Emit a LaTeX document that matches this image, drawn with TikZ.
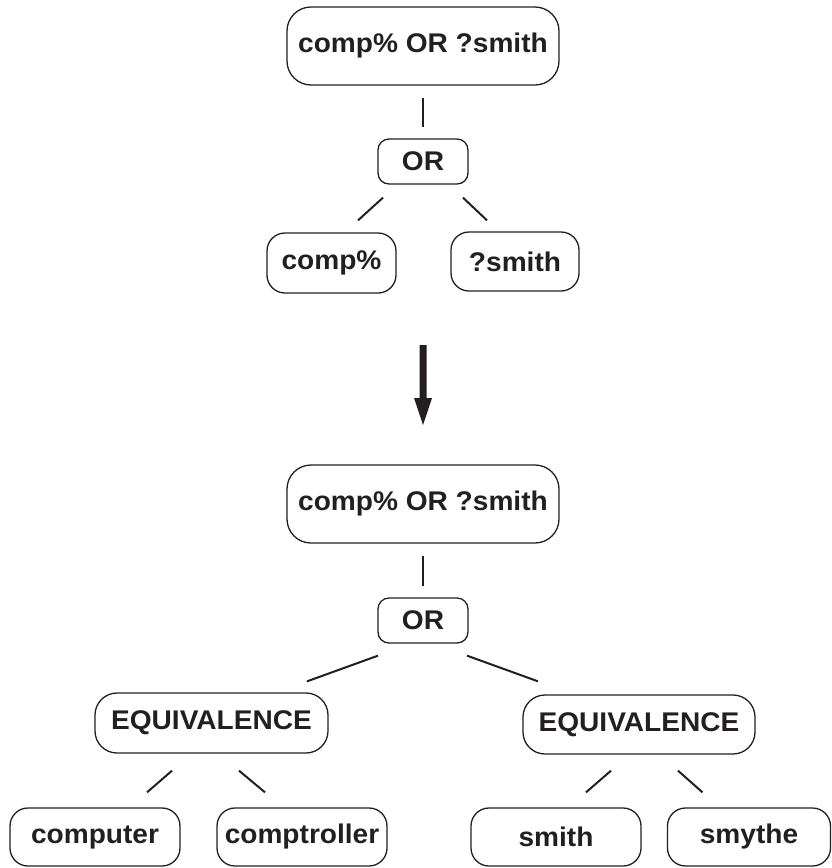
\documentclass[tikz,border=0pt]{standalone}
\usepackage{fontspec}
\usetikzlibrary{calc}
\newfontfamily\labfont[FakeStretch=1.04]{Liberation Sans}
\definecolor{ink}{RGB}{35,31,32}
\begin{document}
\begin{tikzpicture}[x=1pt,y=-1pt,
  bx/.style={draw=ink, text=ink, line width=1.3pt, rounded corners=18pt, inner sep=0pt,
    font=\labfont\bfseries\fontsize{27}{32}\selectfont},
  big/.style={bx, rounded corners=24pt, minimum width=272pt, minimum height=78pt},
  orb/.style={bx, rounded corners=11pt, minimum width=90pt, minimum height=45pt},
  link/.style={draw=ink, line width=2pt}]
\useasboundingbox (0,0) rectangle (832,868);
% upper tree
\node[big] (t1) at (423,46) {comp\% OR ?smith};
\node[orb] (o1) at (423,161.5) {OR};
\node[bx, minimum width=129pt, minimum height=60pt] (cp) at (331.5,263) {comp\%};
\node[bx, minimum width=128pt, minimum height=59pt] (qs) at (515,261.5) {?smith};
\draw[link, shorten <=12pt, shorten >=11pt] (t1.south) -- (o1.north);
\draw[link] ($(o1.south)+(-40,13)$) -- ($(cp.north)+(26.5,-12)$);
\draw[link] ($(o1.south)+(40,13)$) -- ($(qs.north)+(-28,-11)$);
% arrow
\coordinate (a1) at (423,345);
\coordinate (a2) at (423,425);
\fill[ink] ($(a1)+(-3.5,0)$) -- ($(a1)+(3.5,0)$) -- ($(a2)+(3.5,-27)$) -- ($(a2)+(9,-27)$) -- (a2) -- ($(a2)+(-9,-27)$) -- ($(a2)+(-3.5,-27)$) -- cycle;
% lower tree
\node[big] (t2) at (423,504) {comp\% OR ?smith};
\node[orb] (o2) at (423,620.5) {OR};
\node[bx, rounded corners=22pt, minimum width=233pt, minimum height=60pt] (e1) at (211.5,723) {EQUIVALENCE};
\node[bx, rounded corners=22pt, minimum width=232pt, minimum height=59pt] (e2) at (639,724.5) {EQUIVALENCE};
\node[bx, minimum width=170pt, minimum height=58pt] (c1) at (95,837) {computer};
\node[bx, minimum width=170pt, minimum height=58pt] (c2) at (302,837) {comptroller};
\node[bx, minimum width=170pt, minimum height=58pt] (s1) at (556,837) {smith};
\node[bx, minimum width=163pt, minimum height=58pt] (s2) at (749,837) {smythe};
\draw[link, shorten <=12pt, shorten >=11pt] (t2.south) -- (o2.north);
\draw[link] ($(o2.south)+(-45,12)$) -- ($(e1.north)+(95.5,-11)$);
\draw[link] ($(o2.south)+(44,12)$) -- ($(e2.north)+(-101,-13)$);
\draw[link] ($(e1.south)+(-39.5,17)$) -- ($(c1.north)+(52,-15)$);
\draw[link] ($(e1.south)+(27.5,17)$) -- ($(c2.north)+(-37,-15)$);
\draw[link] ($(e2.south)+(-28,16)$) -- ($(s1.north)+(30,-15)$);
\draw[link] ($(e2.south)+(39,16)$) -- ($(s2.north)+(-46.5,-15)$);
\end{tikzpicture}
\end{document}
